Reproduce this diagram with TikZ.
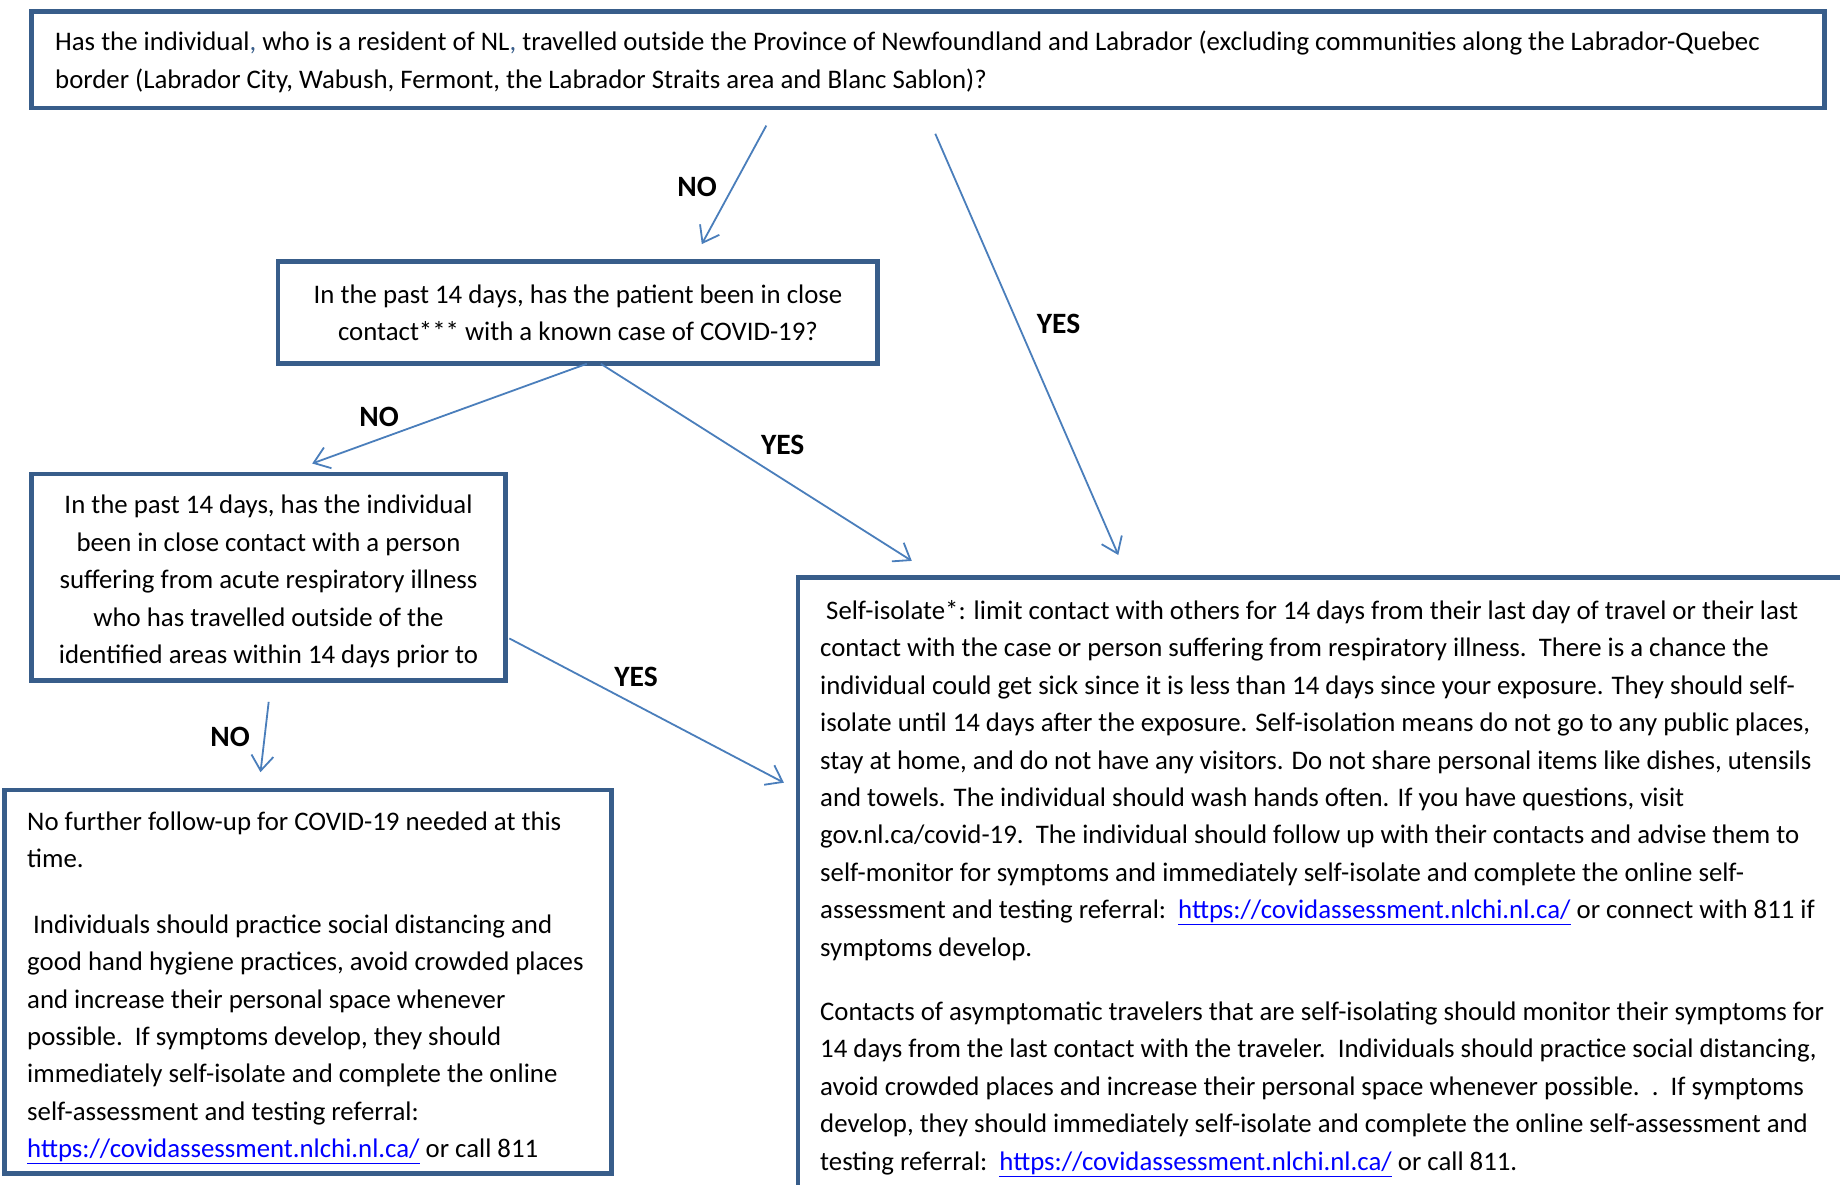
\documentclass[tikz,border=0pt]{standalone}
\usepackage{fontspec}
\setmainfont{Carlito}
\usetikzlibrary{arrows.meta}
\definecolor{boxblue}{RGB}{56,93,138}
\definecolor{arrblue}{RGB}{74,126,187}
\definecolor{linkblue}{RGB}{0,0,255}
\newcommand{\weblink}[1]{\textcolor{linkblue}{\underline{#1}}}
\tikzset{
  boxnode/.style={draw=boxblue, line width=4.7pt, rectangle, inner sep=0pt, fill=white},
  bodytext/.style={inner sep=0pt, font=\fontsize{26.8}{37.4}\selectfont, text=black},
  lbl/.style={inner sep=0pt, font=\fontsize{29.5}{34}\selectfont\bfseries, text=black},
  conn/.style={draw=arrblue, line width=1.8pt, -{Straight Barb[length=15pt, width=22pt, line width=1.8pt]}}
}
\begin{document}
\begin{tikzpicture}[x=1pt, y=-1pt]
\useasboundingbox (0,0) rectangle (1840,1185);
\fill[white] (0,0) rectangle (1840,1185);

% boxes
\node[boxnode, minimum width=1793pt, minimum height=96.3pt] (top) at (928.3,59.9) {};
\node[boxnode, minimum width=599.8pt, minimum height=102pt] (contact) at (577.9,312.8) {};
\node[boxnode, minimum width=474pt, minimum height=206.6pt] (resp) at (268.8,577.3) {};
\node[boxnode, minimum width=606.7pt, minimum height=383.7pt] (nofollow) at (308,981.7) {};
\node[boxnode, minimum width=1082pt, minimum height=652.6pt] (isolate) at (1339,903.7) {};

% texts
\node[bodytext, anchor=west, align=left] (toptext) at (55,61.8) {Has the individual{\color{boxblue},} who is a resident of NL{\color{boxblue},} travelled outside the Province of Newfoundland and Labrador (excluding communities along the Labrador-Quebec\\
border (Labrador City, Wabush, Fermont, the Labrador Straits area and Blanc Sablon)?};

\node[bodytext, align=center] (contacttext) at (578,312.8) {In the past 14 days, has the patient been in close\\ contact*** with a known case of COVID-19?};

\node[bodytext, align=center] (resptext) at (268.5,581.5) {In the past 14 days, has the individual\\ been in close contact with a person\\ suffering from acute respiratory illness\\ who has travelled outside of the\\ identified areas within 14 days prior to};

\node[bodytext, anchor=west, align=left] (nofollowtext) at (27,988) {No further follow-up for COVID-19 needed at this\\ time.\\[28pt]
\hspace*{6pt}Individuals should practice social distancing and\\ good hand hygiene practices, avoid crowded places\\ and increase their personal space whenever\\ possible.\ \ If symptoms develop, they should\\ immediately self-isolate and complete the online\\ self-assessment and testing referral:\\ \weblink{https://covidassessment.nlchi.nl.ca/} or call 811};

\node[bodytext, anchor=west, align=left] (isolatetext) at (820,888.5) {\hspace*{6pt}Self-isolate*: limit contact with others for 14 days from their last day of travel or their last\\
contact with the case or person suffering from respiratory illness.\ \ There is a chance the\\
individual could get sick since it is less than 14 days since your exposure. They should self-\\
isolate until 14 days after the exposure. Self-isolation means do not go to any public places,\\
stay at home, and do not have any visitors. Do not share personal items like dishes, utensils\\
and towels. The individual should wash hands often. If you have questions, visit\\
gov.nl.ca/covid-19.\ \ The individual should follow up with their contacts and advise them to\\
self-monitor for symptoms and immediately self-isolate and complete the online self-\\
assessment and testing referral:\ \ \weblink{https://covidassessment.nlchi.nl.ca/} or connect with 811 if\\
symptoms develop.\\[27pt]
Contacts of asymptomatic travelers that are self-isolating should monitor their symptoms for\\
14 days from the last contact with the traveler.\ \ Individuals should practice social distancing,\\
avoid crowded places and increase their personal space whenever possible.\ \ .\ \ If symptoms\\
develop, they should immediately self-isolate and complete the online self-assessment and\\
testing referral:\ \ \weblink{https://covidassessment.nlchi.nl.ca/} or call 811.};

% connector end points
\coordinate (a1s) at (766.3,125.6);
\coordinate (a1e) at (701.8,244.1);
\coordinate (a2s) at (935.3,133.8);
\coordinate (a2e) at (1118.3,555);
\coordinate (a3s) at (586.8,363.8);
\coordinate (a3e) at (312.2,463.5);
\coordinate (a4s) at (600.8,363.8);
\coordinate (a4e) at (911.8,560.9);
\coordinate (a5s) at (509.3,638.4);
\coordinate (a5e) at (783.9,782.7);
\coordinate (a6s) at (268.7,701.8);
\coordinate (a6e) at (260.5,772.2);

\draw[conn] (a1s) -- (a1e);
\draw[conn] (a2s) -- (a2e);
\draw[conn] (a3s) -- (a3e);
\draw[conn] (a4s) -- (a4e);
\draw[conn] (a5s) -- (a5e);
\draw[conn] (a6s) -- (a6e);

% labels
\node[lbl] (l1) at (697,186.6) {NO};
\node[lbl] (l2) at (1058.5,323.9) {YES};
\node[lbl] (l3) at (379,416.6) {NO};
\node[lbl] (l4) at (782.7,444.8) {YES};
\node[lbl] (l5) at (636,677) {YES};
\node[lbl] (l6) at (230,737) {NO};
\end{tikzpicture}
\end{document}
